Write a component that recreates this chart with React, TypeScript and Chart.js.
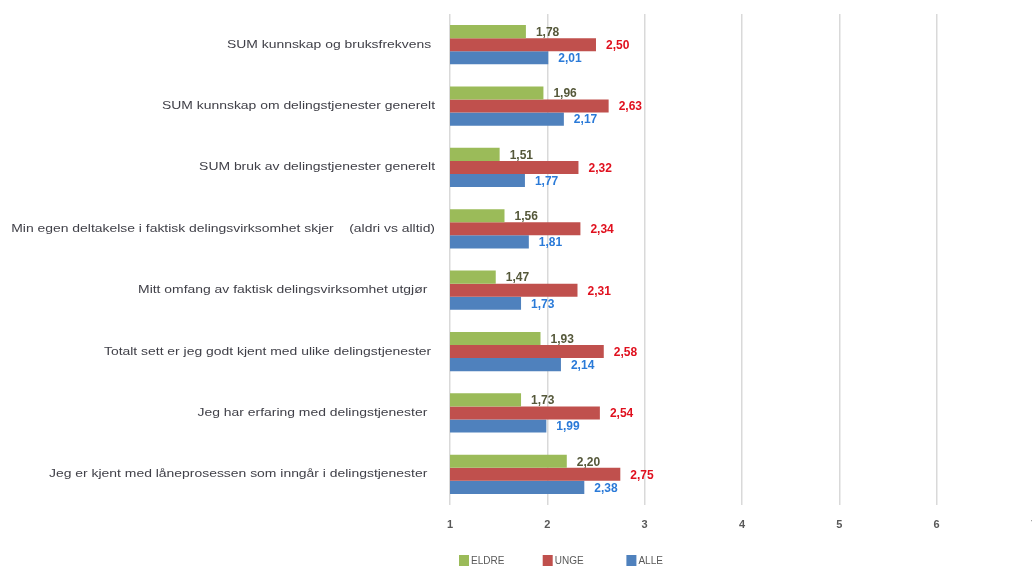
import React, { useEffect, useRef } from "react";
import { Chart, registerables } from "chart.js";

Chart.register(...registerables);

const categories = [
  "SUM kunnskap og bruksfrekvens ",
  "SUM kunnskap om delingstjenester generelt",
  "SUM bruk av delingstjenester generelt",
  "Min egen deltakelse i faktisk delingsvirksomhet skjer    (aldri vs alltid)",
  "Mitt omfang av faktisk delingsvirksomhet utgjør  ",
  "Totalt sett er jeg godt kjent med ulike delingstjenester ",
  "Jeg har erfaring med delingstjenester  ",
  "Jeg er kjent med låneprosessen som inngår i delingstjenester  ",
];
const seriesNames = ["ELDRE", "UNGE", "ALLE"];
const eldre = [1.78, 1.96, 1.51, 1.56, 1.47, 1.93, 1.73, 2.2];
const unge = [2.5, 2.63, 2.32, 2.34, 2.31, 2.58, 2.54, 2.75];
const alle = [2.01, 2.17, 1.77, 1.81, 1.73, 2.14, 1.99, 2.38];
const xMin = 1;
const xMax = 7;
const xStep = 1;

const barColors = ["#9bbb59", "#c0504d", "#4f81bd"];
const labelColors = ["#55583a", "#e0101e", "#2a7ad8"];

// category labels drawn wide (the reference text is horizontally stretched)
const categoryLabels = {
  id: "categoryLabels",
  afterDraw(chart: any) {
    const ctx = chart.ctx;
    const yScale = chart.scales.y;
    const right = chart.chartArea.left - 15;
    ctx.save();
    ctx.font = "11px 'Liberation Sans', sans-serif";
    ctx.fillStyle = "#404048";
    ctx.textAlign = "right";
    ctx.textBaseline = "middle";
    chart.data.labels.forEach((lab: string, i: number) => {
      const y = yScale.getPixelForTick(i);
      ctx.save();
      ctx.translate(right, y);
      ctx.scale(1.265, 1);
      ctx.fillText(lab, 0, 0);
      ctx.restore();
    });
    ctx.restore();
  },
};

const valueLabels = {
  id: "valueLabels",
  afterDatasetsDraw(chart: any) {
    const ctx = chart.ctx;
    ctx.save();
    ctx.font = "bold 12px 'Liberation Sans', sans-serif";
    ctx.textAlign = "left";
    ctx.textBaseline = "middle";
    chart.data.datasets.forEach((ds: any, i: number) => {
      const meta = chart.getDatasetMeta(i);
      meta.data.forEach((bar: any, j: number) => {
        const v = ds.data[j];
        ctx.fillStyle = labelColors[i];
        ctx.fillText(v.toFixed(2).replace(".", ","), bar.x + 10, bar.y + 1);
      });
    });
    ctx.restore();
  },
};

const customLegend = {
  id: "customLegend",
  afterDraw(chart: any) {
    const ctx = chart.ctx;
    const area = chart.chartArea;
    ctx.save();
    ctx.font = "10px 'Liberation Sans', sans-serif";
    ctx.textAlign = "left";
    ctx.textBaseline = "middle";
    const x0 = area.left + 9;
    const yTop = area.bottom + 50;
    chart.data.datasets.forEach((ds: any, i: number) => {
      const x = x0 + i * 83.7;
      ctx.fillStyle = ds.backgroundColor;
      ctx.fillRect(x, yTop, 10, 11);
      ctx.fillStyle = "#595959";
      ctx.fillText(ds.label, x + 12, yTop + 6.5);
    });
    ctx.restore();
  },
};

export default function App() {
  const ref = useRef<HTMLCanvasElement>(null);
  useEffect(() => {
    if (!ref.current) return;
    const chart = new Chart(ref.current, {
      type: "bar",
      data: {
        labels: categories,
        datasets: [eldre, unge, alle].map((d, i) => ({
          label: seriesNames[i],
          data: d,
          backgroundColor: barColors[i],
          borderWidth: 0,
          categoryPercentage: 0.64,
          barPercentage: 1.0,
        })),
      },
      options: {
        indexAxis: "y",
        animation: false,
        responsive: false,
        maintainAspectRatio: false,
        layout: { padding: { left: 0, right: 11, top: 14, bottom: 0 } },
        plugins: {
          legend: { display: false },
          tooltip: { enabled: false },
        },
        scales: {
          x: {
            min: xMin,
            max: xMax,
            ticks: {
              stepSize: xStep,
              padding: 13,
              color: "#595959",
              font: { family: "'Liberation Sans', sans-serif", size: 11, weight: "bold" },
            },
            grid: { color: "#d9d9d9", lineWidth: 1.5, drawTicks: false },
            border: { display: false },
            afterFit: (s: any) => {
              s.height = 61;
            },
          },
          y: {
            ticks: { display: false },
            grid: { display: false, drawTicks: false },
            border: { display: false },
            afterFit: (s: any) => {
              s.width = 450;
            },
          },
        },
      },
      plugins: [valueLabels, categoryLabels, customLegend],
    });
    return () => chart.destroy();
  }, []);
  return (
    <div
      style={{
        position: "fixed",
        left: 0,
        top: 0,
        width: 1032,
        height: 566,
        overflow: "hidden",
        background: "#fff",
      }}
    >
      <canvas ref={ref} width={1050} height={566} style={{ display: "block" }} />
    </div>
  );
}
